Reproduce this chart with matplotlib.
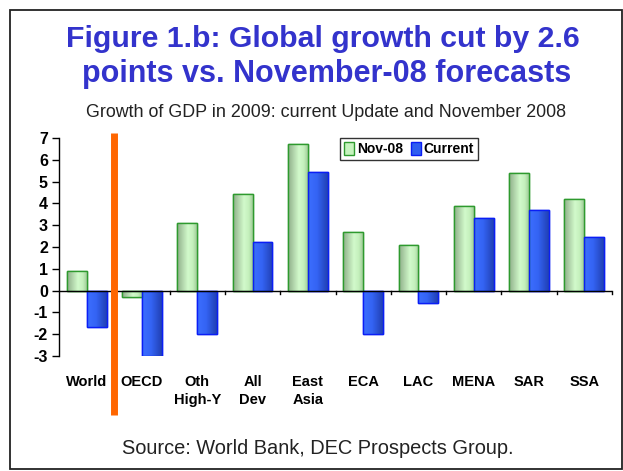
import matplotlib
matplotlib.use("Agg")
import matplotlib.pyplot as plt
import numpy as np
from matplotlib.patches import Rectangle
from matplotlib.colors import LinearSegmentedColormap

plt.rcParams['font.family'] = ['Liberation Sans', 'DejaVu Sans']

categories = ["World", "OECD", "Oth\nHigh-Y", "All\nDev", "East\nAsia", "ECA", "LAC", "MENA", "SAR", "SSA"]
nov08 = [0.88, -0.28, 3.12, 4.42, 6.72, 2.7, 2.07, 3.87, 5.4, 4.22]
current = [-1.66, -2.98, -2.0, 2.22, 5.42, -2.0, -0.56, 3.32, 3.68, 2.44]
series_names = ["Nov-08", "Current"]
yticks = [7, 6, 5, 4, 3, 2, 1, 0, -1, -2, -3]

W, H = 623, 471
fig = plt.figure(figsize=(W/100, H/100), dpi=100)

# outer frame
fig.add_artist(Rectangle((10/W, 2/H), 612/W, 459/H, transform=fig.transFigure,
                         fill=False, edgecolor='#222222', linewidth=1.3))

ax = fig.add_axes([59/W, 1-356/H, (612-59)/W, (356-138)/H])
n = len(categories)
x = np.arange(n)
bw = 0.36
green_cmap = LinearSegmentedColormap.from_list('g', [(0, '#8FAE8A'), (0.55, '#D2FACB'), (0.8, '#C4F0BC'), (1, '#A2CC9A')])
blue_cmap = LinearSegmentedColormap.from_list('b', [(0, '#3C6EFF'), (0.45, '#3464F4'), (1, '#2140B4')])

b1 = ax.bar(x - bw/2, nov08, bw, color='#C6F3BE', edgecolor='#2E9A2E', linewidth=1.0, label=series_names[0], zorder=3)
b2 = ax.bar(x + bw/2, current, bw, color='#2F5EF0', edgecolor='#0A1EF5', linewidth=1.0, label=series_names[1], zorder=3)

grad = np.linspace(0, 1, 64).reshape(1, -1)
for bars, cm in ((b1, green_cmap), (b2, blue_cmap)):
    for p in bars:
        x0, y0 = p.get_x(), p.get_y()
        w, h = p.get_width(), p.get_height()
        ylo, yhi = min(y0, y0 + h), max(y0, y0 + h)
        im = ax.imshow(grad, cmap=cm, extent=[x0, x0 + w, ylo, yhi], aspect='auto',
                       interpolation='bilinear', zorder=3.5)
        im.set_clip_path(p)
        ax.add_patch(Rectangle((x0, y0), w, h, fill=False, edgecolor=p.get_edgecolor(),
                               linewidth=1.0, zorder=3.6))

ax.set_xlim(-0.5, n - 0.5)
ax.set_ylim(-3, 7)
for s in ['top', 'right', 'bottom']:
    ax.spines[s].set_visible(False)
ax.spines['left'].set_linewidth(1.0)
ax.axhline(0, color='black', linewidth=1.0, zorder=4)
for b in np.arange(0.5, n, 1.0):
    ax.plot([b, b], [0, -0.17], color='black', linewidth=1.0, clip_on=False, zorder=4)

ax.set_yticks(yticks)
ax.set_yticklabels([str(v) for v in yticks], fontsize=11.5, fontweight='bold')
ax.tick_params(axis='y', direction='out', length=5, width=1.0, pad=3)
ax.set_xticks([])
for i, c in enumerate(categories):
    ax.text(i, -3.85, c, ha='center', va='top', fontsize=10.5, fontweight='bold',
            linespacing=1.45)

# orange divider
ax.plot([0.5, 0.5], [7.25, -5.7], color='#FF6600', linewidth=5, clip_on=False, zorder=5,
        solid_capstyle='butt')

leg = ax.legend(loc='upper left', bbox_to_anchor=((340-59)/(612-59), 1.0), ncol=2,
                frameon=True, fancybox=False, edgecolor='black',
                handlelength=0.7, handleheight=1.0, handletextpad=0.2, columnspacing=0.6,
                borderpad=0.3, borderaxespad=0.0, prop={'weight': 'bold', 'size': 10})
leg.get_frame().set_linewidth(1.0)
leg.set_zorder(6)

renderer = fig.canvas.get_renderer()

def fitted_text(s, left, right, baseline, size, **kw):
    t = fig.text((left + right) / 2 / W, 1 - baseline / H, s, ha='center', va='baseline',
                 fontsize=size, **kw)
    w = t.get_window_extent(renderer).width
    t.set_fontsize(size * (right - left) / w)
    return t

fitted_text("Figure 1.b: Global growth cut by 2.6", 66, 580, 47, 21,
            fontweight='bold', color='#3333CC')
fitted_text("points vs. November-08 forecasts", 82, 571, 82, 21,
            fontweight='bold', color='#3333CC')
fitted_text("Growth of GDP in 2009: current Update and November 2008", 86, 567, 117, 12.5,
            color='#222222')
fitted_text("Source: World Bank, DEC Prospects Group.", 122, 513, 454, 13.5,
            color='#222222')

fig.savefig("out.png", dpi=100)
